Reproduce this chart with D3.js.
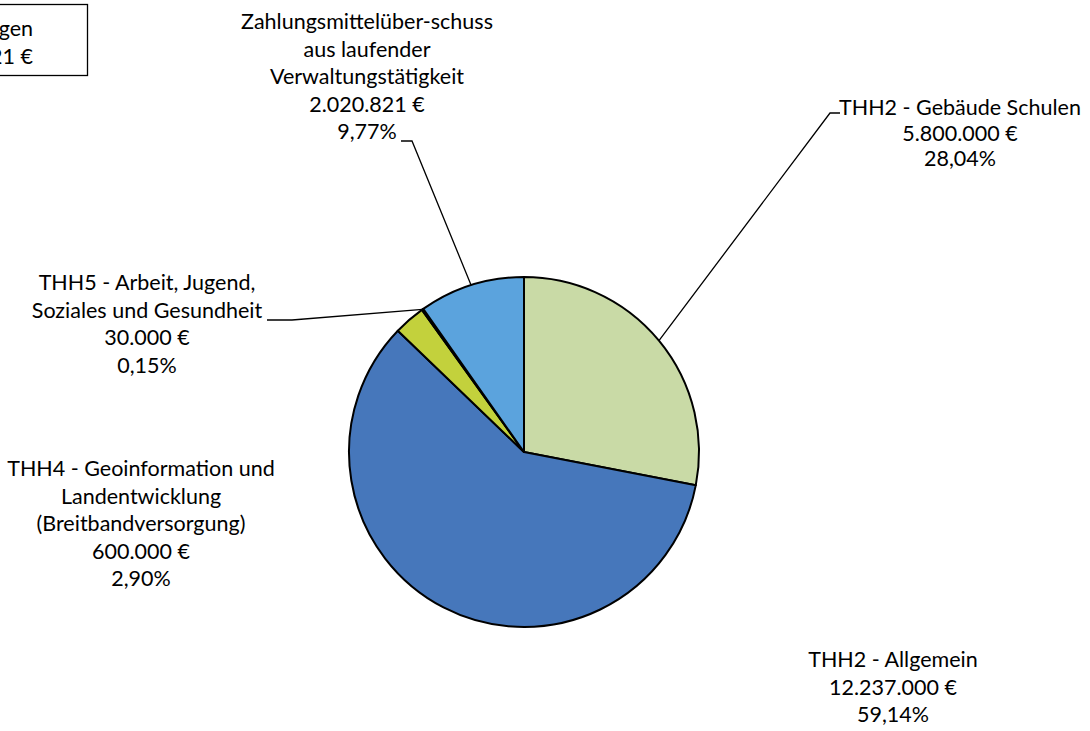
<!DOCTYPE html>
<html>
<head>
<meta charset="utf-8">
<script src="https://cdn.jsdelivr.net/npm/d3@7"></script>
<style>
  body { margin: 0; background: #fff; }
  svg { display: block; }
  text { font-family: Lato, "Open Sans", sans-serif; font-size: 21.5px; fill: #000; }
</style>
</head>
<body>
<svg width="1090" height="731"></svg>
<script>
// slices, clockwise from 12 o'clock
var categories = [
    ["THH2 - Gebäude Schulen"],
    ["THH2 - Allgemein"],
    ["THH4 - Geoinformation und", "Landentwicklung", "(Breitbandversorgung)"],
    ["THH5 - Arbeit, Jugend,", "Soziales und Gesundheit"],
    ["Zahlungsmittelüber-schuss", "aus laufender", "Verwaltungstätigkeit"]
];
var values = [5800000, 12237000, 600000, 30000, 2020821];
var percents = ["28,04%", "59,14%", "2,90%", "0,15%", "9,77%"];
var totalLines = ["Summe Auszahlungen", "20.687.821 €"];

var colors = ["#c9daa6", "#4677bb", "#c3d13c", "#1b1b1b", "#5ba3dd"];

var svg = d3.select("svg"),
    cx = 524, cy = 452, r = 175;

// label anchor (centre x, first baseline, line step) and leader elbow
var labelPos = [
    {x: 960, y: 115, step: 25.5, leader: [[840, 113], [830, 113]]},
    {x: 893, y: 667, step: 27.5, leader: null},
    {x: 141, y: 476, step: 27.5, leader: null},
    {x: 147, y: 290, step: 27.5, leader: [[267, 320], [292, 320]]},
    {x: 367, y: 29, step: 27.5, leader: [[401, 141], [412, 141]]}
];

var fmt = d3.formatLocale({decimal: ",", thousands: ".", grouping: [3], currency: ["", " €"]}).format(",.0f");

var pie = d3.pie().sort(null).value(function(d) { return d; });
var arc = d3.arc().innerRadius(0).outerRadius(r);
var arcs = pie(values);

var g = svg.append("g").attr("transform", "translate(" + cx + "," + cy + ")");

g.selectAll("path")
    .data(arcs)
    .enter().append("path")
    .attr("d", arc)
    .attr("fill", function(d, i) { return colors[i]; })
    .attr("stroke", "#000")
    .attr("stroke-width", 2)
    .attr("stroke-linejoin", "round");

// leader lines from the slice's mid angle on the rim
arcs.forEach(function(d, i) {
    var lp = labelPos[i];
    if (!lp.leader) return;
    var a = (d.startAngle + d.endAngle) / 2;
    var start = [cx + r * Math.sin(a), cy - r * Math.cos(a)];
    var pts = [lp.leader[0], lp.leader[1], start];
    svg.append("path")
        .attr("d", d3.line()(pts))
        .attr("fill", "none")
        .attr("stroke", "#000")
        .attr("stroke-width", 1.3);
});

// data labels
arcs.forEach(function(d, i) {
    var lp = labelPos[i];
    var lines = categories[i].concat([fmt(values[i]) + " €", percents[i]]);
    var t = svg.append("text")
        .attr("text-anchor", "middle");
    lines.forEach(function(s, j) {
        t.append("tspan")
            .attr("x", lp.x)
            .attr("y", lp.y + j * lp.step)
            .text(s);
    });
});

// total box, partly outside the visible area
svg.append("rect")
    .attr("x", -200)
    .attr("y", 4.5)
    .attr("width", 287.5)
    .attr("height", 71)
    .attr("fill", "#fff")
    .attr("stroke", "#000")
    .attr("stroke-width", 1.3);

var tb = svg.append("text").attr("text-anchor", "end");
totalLines.forEach(function(s, j) {
    tb.append("tspan").attr("x", 33).attr("y", 36 + j * 27.5).text(s);
});
</script>
</body>
</html>
